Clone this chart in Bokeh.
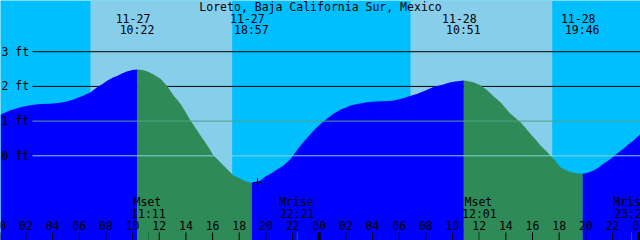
import numpy as np
from bokeh.plotting import figure
from bokeh.models import Range1d
from bokeh.core.properties import value
from bokeh.embed import file_html
from bokeh.resources import INLINE

# ---------------- data ----------------
title_text = "Loreto, Baja California Sur, Mexico"

# tide curve: hours since 11-27 00:00, height in ft
tide_t = [0.09, 0.315, 0.84, 1.59, 2.12, 2.57, 3.09, 3.84, 4.59, 5.12, 5.57, 6.32, 6.84,
          7.37, 7.74, 8.12, 8.49, 8.87, 9.24, 9.62, 9.99, 10.367,
          10.74, 11.12, 11.57, 12.09, 12.62, 13.07, 13.59, 13.97, 14.34, 14.72, 15.09,
          15.62, 16.07, 16.45, 16.82, 17.19, 17.57, 17.94, 18.32, 18.69, 18.95,
          19.59, 19.97, 20.35, 20.87, 21.32, 21.85, 22.22, 22.60, 22.97, 23.35, 23.72,
          24.10, 24.62, 25.07, 25.60, 26.35, 26.95, 27.62, 28.22, 28.82, 29.50, 30.10,
          30.70, 31.37, 31.97, 32.57, 33.25, 33.85, 34.37, 34.85,
          35.20, 35.57, 35.87, 36.10, 36.62, 37.07, 37.60, 37.97, 38.35, 38.72, 39.10,
          39.48, 39.85, 40.23, 40.60, 40.98, 41.35, 41.73, 42.10, 42.48, 42.85, 43.30, 43.767,
          44.20, 44.58, 44.95, 45.33, 45.70, 46.08, 46.45, 46.83, 47.20, 47.58, 48.10]
tide_h = [1.18, 1.23, 1.31, 1.40, 1.44, 1.47, 1.49, 1.50, 1.53, 1.57, 1.62, 1.74, 1.83,
          1.98, 2.07, 2.17, 2.25, 2.31, 2.38, 2.44, 2.47, 2.49,
          2.47, 2.43, 2.34, 2.22, 2.00, 1.74, 1.50, 1.26, 1.02, 0.80, 0.585,
          0.29, 0.01, -0.135, -0.28, -0.42, -0.57, -0.63, -0.71, -0.76, -0.78,
          -0.71, -0.60, -0.52, -0.39, -0.28, -0.09, 0.10, 0.30, 0.46, 0.63, 0.78,
          0.92, 1.08, 1.21, 1.33, 1.45, 1.50, 1.545, 1.565, 1.57, 1.59, 1.64,
          1.71, 1.79, 1.88, 1.98, 2.05, 2.12, 2.15, 2.17,
          2.15, 2.12, 2.07, 2.03, 1.88, 1.72, 1.545, 1.38, 1.21, 1.09, 0.97,
          0.80, 0.63, 0.47, 0.30, 0.15, 0.01, -0.16, -0.33, -0.41, -0.47, -0.50, -0.52,
          -0.48, -0.42, -0.34, -0.23, -0.135, -0.02, 0.095, 0.20, 0.33, 0.44, 0.63]

event_t = [10.367, 18.95, 34.85, 43.767]
event_kind = ["high", "low", "high", "low"]
event_date = ["11-27", "11-27", "11-28", "11-28"]
event_time = ["10:22", "18:57", "10:51", "19:46"]

sun_rise = [6.84, 30.85]
sun_set = [17.47, 41.48]

moon_t = [11.183, 22.35, 36.017, 47.43]
moon_kind = ["Mset", "Mrise", "Mset", "Mrise"]
moon_time = ["11:11", "22:21", "12:01", "23:26"]

hour_ticks = list(range(0, 50, 2))
hour_labels = ["%02d" % (h % 24) for h in hour_ticks]
midnight_ticks = [0, 24, 48]

ft_black = [2, 3]
ft_msl = [1]
ft_datum = [0]
ft_ticks = [0, 1, 2, 3]
ft_labels = ["0 ft", "1 ft", "2 ft", "3 ft"]

mark_t = [19.37]
mark_h = [-0.77]

# ---------------- layout helpers ----------------
W, H = 640, 240
T0, T1 = 0.09, 0.09 + 640 / 13.33
Y0, Y1 = -2.441, 4.476
def py(pix):
    return Y1 - pix * (Y1 - Y0) / H
def px(pix):
    return T0 + pix * (T1 - T0) / W

NIGHT = "#00BFFF"
DAY = "#87CEEB"
FLOOD = "#0000FF"
EBB = "#2E8B57"
FONT = value("DejaVu Sans Mono")
FS = "11.5px"

p = figure(width=W, height=H, x_range=Range1d(T0, T1), y_range=Range1d(Y0, Y1),
           output_backend="svg", toolbar_location=None, min_border=0)
p.axis.visible = False
p.grid.visible = False
p.outline_line_color = None
p.background_fill_color = NIGHT
p.border_fill_color = NIGHT

# day bands
p.quad(left=sun_rise, right=sun_set, bottom=Y0 - 1, top=Y1 + 1, fill_color=DAY, line_color=None)

# black gridlines (under tide)
for f in ft_black:
    p.segment(x0=[px(32)], x1=[T1 + 1], y0=[f], y1=[f], line_color="black", line_width=1)

# tide fill, coloured by rising/falling
bounds = [tide_t[0]] + event_t + [tide_t[-1]]
tt = np.array(tide_t); hh = np.array(tide_h)
for i in range(len(bounds) - 1):
    a, b = bounds[i], bounds[i + 1]
    m = (tt >= a - 1e-9) & (tt <= b + 1e-9)
    if i < len(event_t):
        color = FLOOD if event_kind[i] == "high" else EBB
    else:
        color = FLOOD if event_kind[-1] == "low" else EBB
    p.varea(x=tt[m], y1=np.full(m.sum(), Y0 - 1), y2=hh[m], fill_color=color)

# MSL and datum lines (over tide)
for f in ft_msl:
    p.segment(x0=[px(32)], x1=[T1 + 1], y0=[f], y1=[f], line_color="#52A08A", line_width=1)
for f in ft_datum:
    p.segment(x0=[px(32)], x1=[T1 + 1], y0=[f], y1=[f], line_color="#86D2DC", line_width=1)

# ft labels
p.text(x=[px(1)] * len(ft_ticks), y=ft_ticks, text=ft_labels, text_font=FONT,
       text_font_size=FS, text_align="left", text_baseline="middle", text_color="black")

# hour ticks
p.segment(x0=hour_ticks, x1=hour_ticks, y0=[py(232)] * len(hour_ticks),
          y1=[Y0 - 1] * len(hour_ticks), line_color="black", line_width=1)
p.segment(x0=midnight_ticks, x1=midnight_ticks, y0=[py(232)] * len(midnight_ticks),
          y1=[Y0 - 1] * len(midnight_ticks), line_color="black", line_width=3)
p.text(x=hour_ticks, y=[py(225)] * len(hour_ticks), text=hour_labels, text_font=FONT,
       text_font_size=FS, text_align="center", text_baseline="middle", text_color="black")

# moon marks
p.segment(x0=moon_t, x1=moon_t, y0=[py(232)] * len(moon_t), y1=[Y0 - 1] * len(moon_t),
          line_color="#1E6B3C", line_width=1)
p.text(x=moon_t, y=[py(201.5)] * len(moon_t), text=moon_kind, text_font=FONT,
       text_font_size=FS, text_align="center", text_baseline="middle", text_color="black",
       x_offset=-1)
p.text(x=moon_t, y=[py(213.5)] * len(moon_t), text=moon_time, text_font=FONT,
       text_font_size=FS, text_align="center", text_baseline="middle", text_color="black")

# tide event labels
p.text(x=event_t, y=[py(17.5)] * len(event_t), text=event_date, text_font=FONT,
       text_font_size=FS, text_align="center", text_baseline="middle", text_color="black",
       x_offset=-4.5)
p.text(x=event_t, y=[py(29.5)] * len(event_t), text=event_time, text_font=FONT,
       text_font_size=FS, text_align="center", text_baseline="middle", text_color="black",
       x_offset=-0.5)

# title
p.text(x=[(T0 + T1) / 2], y=[py(6)], text=[title_text], text_font=FONT, text_font_size=FS,
       text_align="center", text_baseline="middle", text_color="black")

# cross mark
p.scatter(x=mark_t, y=mark_h, marker="cross", size=9, line_color="black", line_width=1)

open("out.html", "w").write(file_html(p, INLINE))
